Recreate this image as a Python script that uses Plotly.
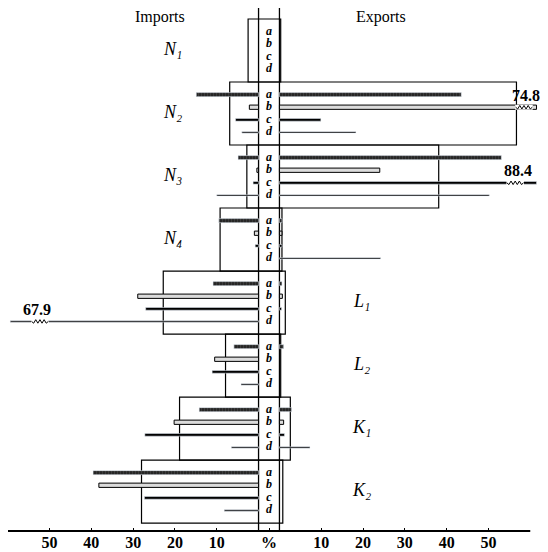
import plotly.graph_objects as go

# ---------------- data (percent) ----------------
groups = ["N1", "N2", "N3", "N4", "L1", "L2", "K1", "K2"]
group_labels = ["N₁", "N₂", "N₃", "N₄", "L₁", "L₂", "K₁", "K₂"]
label_side = ["imports", "imports", "imports", "imports", "exports", "exports", "exports", "exports"]
rows = ["a", "b", "c", "d"]

imports_total = [2.5, 6.9, 2.8, 9.2, 22.8, 7.9, 18.9, 28.0]
exports_total = [0.3, 56.7, 38.1, 0.6, 1.4, 0.3, 2.6, 0.8]

imports_a = [0, 14.9, 4.9, 9.5, 10.9, 5.9, 14.2, 39.6]
imports_b = [0, 2.2, 0.4, 1.0, 28.9, 10.5, 20.2, 38.2]
imports_c = [0, 5.5, 1.3, 0.8, 27.0, 11.1, 27.2, 27.3]
imports_d = [0, 4.0, 10.0, 0, 67.9, 4.2, 6.5, 8.2]

exports_a = [0, 43.5, 53.1, 0.6, 0.6, 1.0, 2.9, 0]
exports_b = [0, 74.8, 24.0, 0.6, 0.7, 0, 1.0, 0]
exports_c = [0, 9.9, 88.4, 0.6, 0.5, 0, 1.2, 0]
exports_d = [0, 18.3, 50.2, 24.2, 0, 0, 7.3, 0]

tick_values = [50, 40, 30, 20, 10]

# truncated (broken) bars
trunc_group = ["N2", "N3", "L1"]
trunc_row = ["b", "c", "d"]
trunc_side = ["exports", "exports", "imports"]
trunc_break = [58.5, 56.4, 52.3]

# ---------------- geometry constants ----------------
GAP = 2.5            # half width of the central letter band, in axis units
AXIS_MAX = 60        # extent of the scale on each side
CAP = {"exports": 61.5, "imports": 59.4}
GROUP_H = 5          # rows per group slot (4 rows + padding)
SERIF = "Liberation Serif"

imports = {"a": imports_a, "b": imports_b, "c": imports_c, "d": imports_d}
exports = {"a": exports_a, "b": exports_b, "c": exports_c, "d": exports_d}

def row_y(gi, r):
    return GROUP_H * gi + rows.index(r) + 1

styles = {
    "a": dict(width=0.32, marker=dict(color="#262626",
                                      pattern=dict(shape="|", fgcolor="#9a9a9a", size=3, solidity=0.12))),
    "b": dict(width=0.34, marker=dict(color="#dcdcdc", line=dict(color="black", width=1))),
    "c": dict(width=0.21, marker=dict(color="black")),
    "d": dict(width=0.11, marker=dict(color="black")),
}

fig = go.Figure()

# ---------------- group boxes and band ----------------
shapes = []
for gi, g in enumerate(groups):
    shapes.append(dict(type="rect", xref="x", yref="y",
                       x0=-(imports_total[gi] + GAP), x1=exports_total[gi] + GAP,
                       y0=GROUP_H * gi, y1=GROUP_H * (gi + 1),
                       line=dict(color="black", width=1.2), fillcolor="rgba(0,0,0,0)", layer="below"))
for sx in (-GAP, GAP):
    shapes.append(dict(type="line", xref="x", yref="paper", x0=sx, x1=sx, y0=-0.002, y1=1,
                       line=dict(color="black", width=1.3), layer="below"))
shapes.append(dict(type="line", xref="x", yref="paper", x0=-(AXIS_MAX + GAP), x1=AXIS_MAX + GAP,
                   y0=0, y1=0, line=dict(color="black", width=2)))

# ---------------- bars ----------------
for r in rows:
    st = styles[r]
    for side, data, sign in (("imports", imports, -1), ("exports", exports, 1)):
        ys, xs = [], []
        for gi in range(len(groups)):
            v = data[r][gi]
            if v > 0:
                ys.append(row_y(gi, r))
                xs.append(sign * min(v, CAP[side]))
        fig.add_trace(go.Bar(x=xs, y=ys, base=sign * GAP, orientation="h",
                             width=st["width"], marker=st["marker"], showlegend=False,
                             hoverinfo="skip"))

# ---------------- breaks on truncated bars ----------------
annotations = []
for g, r, side, brk in zip(trunc_group, trunc_row, trunc_side, trunc_break):
    gi = groups.index(g)
    sign = -1 if side == "imports" else 1
    data = imports if side == "imports" else exports
    val = data[r][gi]
    y0 = row_y(gi, r)
    half = 2.0
    n = 8
    zx = [sign * (GAP + brk - half + 2 * half * k / n) for k in range(n + 1)]
    zy = [y0 + (0.14 if k % 2 else -0.14) * (0 if k in (0, n) else 1) for k in range(n + 1)]
    fig.add_trace(go.Scatter(x=[sign * (GAP + brk - half - 0.1), sign * (GAP + brk + half + 0.1)],
                             y=[y0, y0], mode="lines", line=dict(color="white", width=5),
                             showlegend=False, hoverinfo="skip"))
    fig.add_trace(go.Scatter(x=zx, y=zy, mode="lines", line=dict(color="black", width=1),
                             showlegend=False, hoverinfo="skip"))
    annotations.append(dict(x=sign * (GAP + brk + 0.6), y=y0 - 0.95, xref="x", yref="y",
                            text=str(val), showarrow=False,
                            font=dict(family=SERIF, size=16, color="black", weight="bold")))

# ---------------- row letters in the band ----------------
letter_x, letter_y, letter_t = [], [], []
for gi in range(len(groups)):
    for r in rows:
        letter_x.append(0)
        letter_y.append(row_y(gi, r))
        letter_t.append(r)
fig.add_trace(go.Scatter(x=letter_x, y=letter_y, text=letter_t, mode="text",
                         textfont=dict(family=SERIF, size=12, color="black", style="italic", weight="bold"),
                         showlegend=False, hoverinfo="skip"))

# ---------------- labels ----------------
for gi, lab in enumerate(group_labels):
    xpos = -23 if label_side[gi] == "imports" else 22.2
    annotations.append(dict(x=xpos, y=GROUP_H * gi + 2.35, xref="x", yref="y", text=lab,
                            showarrow=False,
                            font=dict(family=SERIF, size=18, color="black", style="italic")))
annotations.append(dict(x=-26.1, y=-0.18, xref="x", yref="y", text="Imports", showarrow=False,
                        font=dict(family=SERIF, size=16, color="black")))
annotations.append(dict(x=26.8, y=-0.18, xref="x", yref="y", text="Exports", showarrow=False,
                        font=dict(family=SERIF, size=16, color="black")))

tickvals = [-(v + GAP) for v in tick_values] + [0] + [v + GAP for v in reversed(tick_values)]
ticktext = [str(v) for v in tick_values] + ["%"] + [str(v) for v in reversed(tick_values)]

fig.update_layout(
    width=548, height=552,
    margin=dict(l=0, r=0, t=0, b=29),
    paper_bgcolor="white", plot_bgcolor="white",
    barmode="overlay",
    shapes=shapes, annotations=annotations,
    xaxis=dict(range=[-62.44, 68.66], tickvals=tickvals, ticktext=ticktext,
               ticks="inside", ticklen=3, tickcolor="black", showgrid=False, zeroline=False,
               showline=False,
               tickfont=dict(family=SERIF, size=16, color="black", weight="bold")),
    yaxis=dict(range=[40.63, -0.873], visible=False),
)

fig.write_html("out.html")
